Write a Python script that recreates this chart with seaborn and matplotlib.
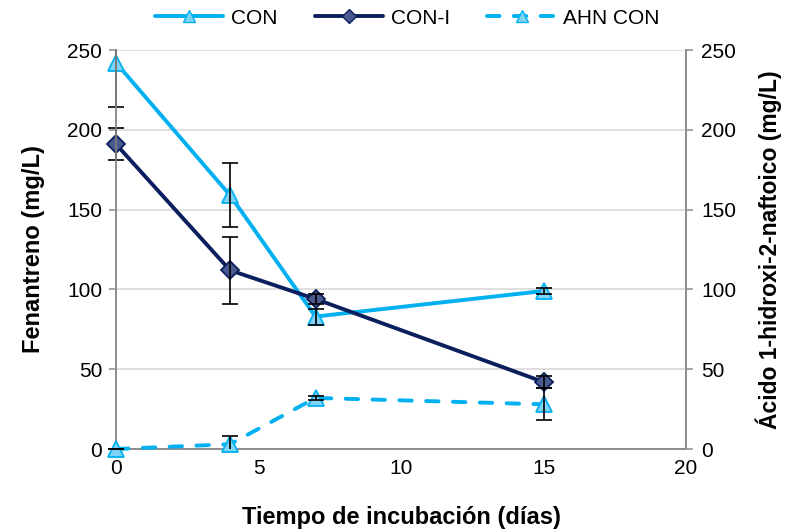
import matplotlib
matplotlib.use("Agg")
import matplotlib.pyplot as plt
from matplotlib.lines import Line2D
from matplotlib.transforms import Bbox, TransformedBbox
import seaborn as sns
import pandas as pd

# Incubation times (days)
dias = [0, 4, 7, 15]

# Phenanthrene (mg/L)
con = [242, 159, 83, 99]
con_err = [28, 20, 5, 2]
con_i = [191, 112, 94, 42]
con_i_err = [10, 21, 3, 4]

# 1-hydroxy-2-naphthoic acid (mg/L)
ahn_con = [0, 3, 32, 28]
ahn_con_err = [0, 5, 1, 10]

y_ticks = [0, 50, 100, 150, 200, 250]
x_ticks = [0, 5, 10, 15, 20]

CYAN = "#00B0F0"
CYAN_FILL = "#7FD4F5"
NAVY = "#0B1F5E"
NAVY_FILL = "#4A5A8E"
GRID = "#D9D9D9"
SPINE = "#8C8C8C"
LW = 2.8
DASH = (0, (3.2, 3.7))

sns.set_theme(style="white")
plt.rcParams["font.family"] = ["Liberation Sans", "DejaVu Sans"]
plt.rcParams.update({"text.color": "black", "axes.labelcolor": "black",
                     "xtick.labelcolor": "black", "ytick.labelcolor": "black"})

fig = plt.figure(figsize=(8, 5.32), dpi=100)
ax = fig.add_axes([0.145, 0.156, 0.7125, 0.75])
ax2 = ax.twinx()

df = pd.DataFrame({"dias": dias, "con": con, "con_i": con_i, "ahn": ahn_con})

tri = dict(marker="^", markersize=12, markerfacecolor=CYAN_FILL,
           markeredgecolor=CYAN, markeredgewidth=1.3)
sns.lineplot(data=df, x="dias", y="con", ax=ax, color=CYAN, lw=LW,
             zorder=3, clip_on=False, **tri)
sns.lineplot(data=df, x="dias", y="con_i", ax=ax, color=NAVY, lw=LW,
             marker="D", markersize=9, markerfacecolor=NAVY_FILL,
             markeredgecolor=NAVY, markeredgewidth=1.3, zorder=3,
             clip_on=False)
sns.lineplot(data=df, x="dias", y="ahn", ax=ax2, color=CYAN, lw=LW,
             linestyle=DASH, dash_capstyle="round", zorder=3,
             clip_on=False, **tri)

# Error bars: clipped vertically to the plot, free to overhang the y axes
for a, y, e in ((ax, con, con_err), (ax, con_i, con_i_err),
                (ax2, ahn_con, ahn_con_err)):
    eb = a.errorbar(dias, y, yerr=e, fmt="none", ecolor="black",
                    elinewidth=1.2, capsize=6, capthick=1.2, zorder=4)
    clip = TransformedBbox(Bbox([[-0.05, 0.0], [1.05, 1.0]]), a.transAxes)
    for child in eb.get_children():
        child.set_clip_box(clip)

for a in (ax, ax2):
    a.set_ylim(0, 250)
    a.set_yticks(y_ticks)
    a.set_xlim(0, 20)
    for s in a.spines.values():
        s.set_color(SPINE)
        s.set_linewidth(1.2)
    a.spines["top"].set_visible(False)

ax.set_xticks(x_ticks)
ax.grid(axis="y", color=GRID, lw=1.2)
ax.set_axisbelow(True)
ax.tick_params(axis="both", direction="out", length=5, width=1.1,
               color=SPINE, labelcolor="black", labelsize=15, pad=5)
ax.tick_params(axis="x", pad=2)
ax2.tick_params(axis="y", direction="out", length=5, width=1.1,
                color=SPINE, labelcolor="black", labelsize=15, pad=6)

ax.set_xlabel("Tiempo de incubación (días)", fontsize=17,
              fontweight="bold", labelpad=20)
ax.set_ylabel("Fenantreno (mg/L)", fontsize=17, fontweight="bold",
              labelpad=16)
ax2.set_ylabel("Ácido 1-hidroxi-2-naftoico (mg/L)", fontsize=16.5,
               fontweight="bold", labelpad=14)

handles = [
    Line2D([], [], color=CYAN, lw=LW, marker="^", markersize=9,
           markerfacecolor=CYAN_FILL, markeredgecolor=CYAN),
    Line2D([], [], color=NAVY, lw=LW, marker="D", markersize=7,
           markerfacecolor=NAVY_FILL, markeredgecolor=NAVY),
    Line2D([], [], color=CYAN, lw=LW, linestyle=DASH, dash_capstyle="round",
           marker="^", markersize=9, markerfacecolor=CYAN_FILL,
           markeredgecolor=CYAN),
]
fig.legend(handles, ["CON", "CON-I", "AHN CON"], loc="center",
           bbox_to_anchor=(0.509, 0.966), ncol=3, frameon=False, fontsize=15,
           handlelength=3.3, columnspacing=1.8, handletextpad=0.35)

fig.savefig("out.png", dpi=100)
